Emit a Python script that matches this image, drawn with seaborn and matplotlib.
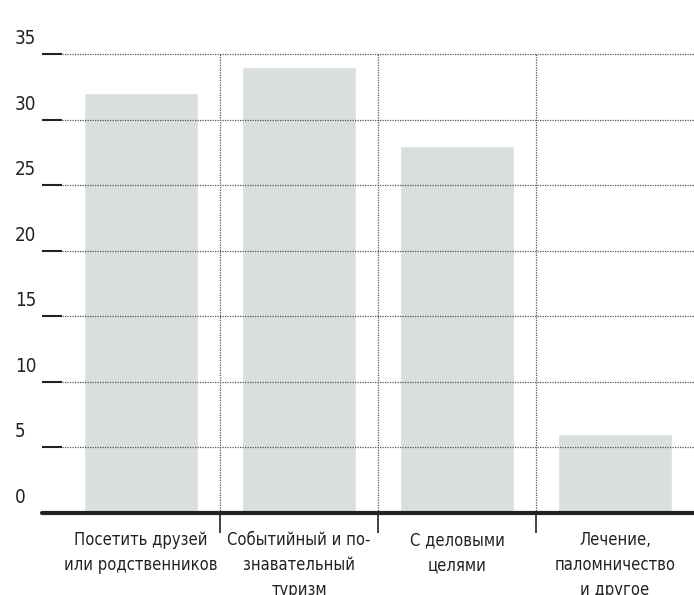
import matplotlib
matplotlib.use("Agg")
import matplotlib.pyplot as plt
import matplotlib.transforms as mtransforms
from matplotlib.lines import Line2D
from matplotlib import font_manager
import seaborn as sns
import pandas as pd

categories = ["Посетить друзей\nили родственников",
              "Событийный и по-\nзнавательный\nтуризм",
              "С деловыми\nцелями",
              "Лечение,\nпаломничество\nи другое"]
values = [32, 34, 28, 6]
y_ticks = [0, 5, 10, 15, 20, 25, 30, 35]

sns.set_theme(style="white")

cond = [f for f in font_manager.fontManager.ttflist
        if f.name == "DejaVu Sans" and f.stretch == "condensed" and f.weight in (400, "normal") and f.style == "normal"]
if cond:
    plt.rcParams['font.family'] = ['DejaVu Sans']
    plt.rcParams['font.stretch'] = 'condensed'
    lab_size, num_size = 11.9, 13.5
else:
    plt.rcParams['font.family'] = ['Roboto', 'DejaVu Sans']
    lab_size, num_size = 11.5, 13

W, H = 694, 595
fig = plt.figure(figsize=(W / 100, H / 100), dpi=100)
ax = fig.add_axes([62 / W, (H - 513) / H, 1 - 62 / W, (513 - 54) / H])

df = pd.DataFrame({"cat": categories, "val": values})
sns.barplot(data=df, x="cat", y="val", color="#d9dfdb", saturation=1,
            width=0.72, ax=ax, zorder=1)

ax.set_xlim(-0.5, 3.5)
ax.set_ylim(0, 35)
ax.set_xlabel("")
ax.set_ylabel("")
for s in ax.spines.values():
    s.set_visible(False)

dark = "#222222"
for v in y_ticks[1:]:
    ax.axhline(v, color="#555555", linestyle=(0, (1, 1)), linewidth=0.9,
               zorder=3, clip_on=False)
for xs in [0.5, 1.5, 2.5]:
    ax.plot([xs, xs], [0, 35], color="#555555", linestyle=(0, (1, 1)),
            linewidth=0.9, zorder=3, clip_on=False)

ax.set_yticks(y_ticks)
ax.tick_params(axis="y", which="major", length=14.4, width=1.5,
               color=dark, direction="out", labelleft=False, left=True)
ax.set_xticks([0.5, 1.5, 2.5], minor=True)
ax.tick_params(axis="x", which="minor", length=14.4, width=1.2,
               color=dark, direction="out", bottom=True)
ax.tick_params(axis="x", which="major", length=0, pad=13,
               labelsize=lab_size, labelcolor=dark)
for lab in ax.get_xticklabels():
    lab.set_linespacing(1.5)

trans_b = mtransforms.blended_transform_factory(fig.transFigure, ax.transData)
fig.add_artist(Line2D([42 / W, 1.0], [0, 0], transform=trans_b,
                      color=dark, linewidth=3, zorder=5))

offset = mtransforms.offset_copy(trans_b, fig=fig, x=0, y=6, units="dots")
for v in y_ticks:
    fig.text(15 / W, v, str(v), transform=offset, ha="left", va="bottom",
             fontsize=num_size, color=dark)

fig.savefig("out.png", dpi=100)
